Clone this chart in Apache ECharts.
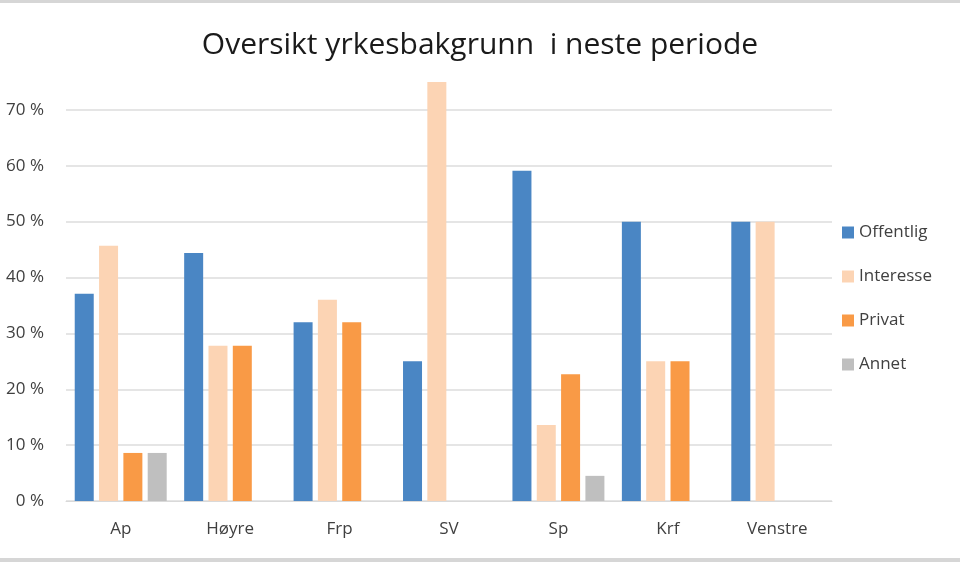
<!DOCTYPE html>
<html>
<head>
<meta charset="utf-8">
<script src="https://cdn.jsdelivr.net/npm/echarts@6/dist/echarts.min.js"></script>
<style>
html,body{margin:0;padding:0;background:#fff;}
#c{width:960px;height:562px;box-sizing:border-box;border-top:3px solid #d6d6d6;border-bottom:4px solid #d6d6d6;}
</style>
</head>
<body>
<div id="c"></div>
<script>
var categories = ['Ap', 'Høyre', 'Frp', 'SV', 'Sp', 'Krf', 'Venstre'];
var offentlig = [0.371, 0.444, 0.32, 0.25, 0.591, 0.5, 0.5];
var interesse = [0.457, 0.278, 0.36, 0.75, 0.136, 0.25, 0.5];
var privat    = [0.086, 0.278, 0.32, 0, 0.227, 0.25, 0];
var annet     = [0.086, 0, 0, 0, 0.045, 0, 0];
var seriesNames = ['Offentlig', 'Interesse', 'Privat', 'Annet'];
var colors = ['#4a86c4', '#fcd4b4', '#f99a46', '#bfbfbf'];

var chart = echarts.init(document.getElementById('c'));
var font = '"Open Sans", "Noto Sans", sans-serif';
var datas = [offentlig, interesse, privat, annet];
var series = datas.map(function (d, i) {
  return {
    name: seriesNames[i],
    type: 'bar',
    data: d,
    barWidth: 19,
    barGap: '28%',
    itemStyle: { color: colors[i] }
  };
});
chart.setOption({
  animation: false,
  color: colors,
  title: {
    text: 'Oversikt yrkesbakgrunn  i neste periode',
    left: 'center',
    top: 22,
    textStyle: { fontFamily: font, fontSize: 30, fontWeight: 'normal', color: '#1a1a1a' }
  },
  legend: {
    orient: 'vertical',
    left: 837,
    top: 216,
    itemWidth: 12,
    itemHeight: 12,
    itemGap: 27,
    icon: 'rect',
    textStyle: { fontFamily: font, fontSize: 17, color: '#404040' },
    data: seriesNames
  },
  grid: { left: 66, right: 128, top: 51, bottom: 57 },
  xAxis: {
    type: 'category',
    data: categories,
    axisLine: { show: true, lineStyle: { color: '#d9d9d9' } },
    axisTick: { show: false },
    axisLabel: { fontFamily: font, fontSize: 17, color: '#404040', margin: 20 }
  },
  yAxis: {
    type: 'value',
    min: 0,
    max: 0.8,
    interval: 0.1,
    axisLine: { show: false },
    axisTick: { show: false },
    splitLine: { lineStyle: { color: ['#dcdcdc','#dcdcdc','#dcdcdc','#dcdcdc','#dcdcdc','#dcdcdc','#dcdcdc','#dcdcdc','rgba(0,0,0,0)'], width: 1.5 } },
    axisLabel: {
      fontFamily: font, fontSize: 17, color: '#404040', margin: 22,
      formatter: function (v) { return v > 0.75 ? '' : Math.round(v * 100) + ' %'; }
    }
  },
  series: series
});
</script>
</body>
</html>
